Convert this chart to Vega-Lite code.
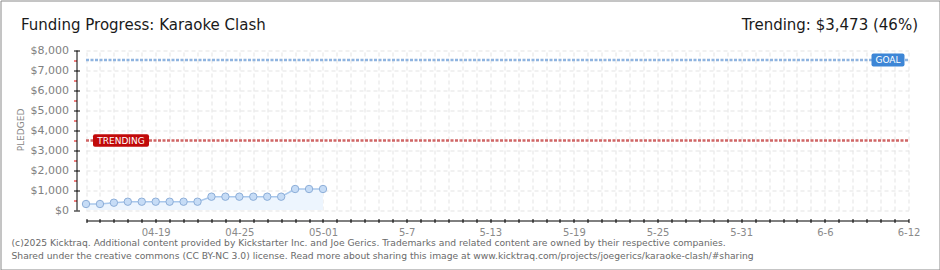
{
  "$schema": "https://vega.github.io/schema/vega-lite/v6.json",
  "width": 939,
  "height": 269,
  "padding": 0.5,
  "autosize": {"type": "none"},
  "background": "white",
  "config": {"view": {"stroke": "#8a8a8a", "strokeWidth": 1, "fill": "white"}},
  "datasets": {
    "pledges": [
      {"date": "2025-04-14", "pledged": 300},
      {"date": "2025-04-15", "pledged": 300},
      {"date": "2025-04-16", "pledged": 365},
      {"date": "2025-04-17", "pledged": 415},
      {"date": "2025-04-18", "pledged": 415},
      {"date": "2025-04-19", "pledged": 415},
      {"date": "2025-04-20", "pledged": 415},
      {"date": "2025-04-21", "pledged": 415},
      {"date": "2025-04-22", "pledged": 415},
      {"date": "2025-04-23", "pledged": 665},
      {"date": "2025-04-24", "pledged": 665},
      {"date": "2025-04-25", "pledged": 665},
      {"date": "2025-04-26", "pledged": 665},
      {"date": "2025-04-27", "pledged": 665},
      {"date": "2025-04-28", "pledged": 665},
      {"date": "2025-04-29", "pledged": 1050},
      {"date": "2025-04-30", "pledged": 1050},
      {"date": "2025-05-01", "pledged": 1050}
    ],
    "refs": [
      {"label": "GOAL", "amount": 7500},
      {"label": "TRENDING", "amount": 3473}
    ]
  },
  "layer": [
    {
      "data": {"name": "pledges"},
      "mark": {"type": "area", "color": "#edf5fe", "opacity": 1},
      "encoding": {
        "x": {
          "field": "date", "type": "temporal",
          "scale": {"type": "utc", "domain": [{"year": 2025, "month": 4, "date": 14, "utc": true}, {"year": 2025, "month": 6, "date": 12, "utc": true}], "range": [85.5, 908], "nice": false},
          "axis": {
            "orient": "bottom", "offset": -49, "grid": false,
            "domain": true, "domainColor": "#000000", "domainWidth": 1,
            "ticks": true, "tickColor": "#000000", "tickSize": 2, "tickWidth": 1,
            "tickCount": {"interval": "day", "step": 1},
            "labelExpr": "(round((datum.value - utc(2025,3,19)) / 864e5) % 6 === 0) ? (datum.value <= utc(2025,4,1) ? utcFormat(datum.value, '%m-%d') : utcFormat(datum.value, '%-m-%-d')) : ''",
            "labelOverlap": false, "labelFlush": false, "labelBound": false,
            "labelFont": "DejaVu Sans", "labelFontSize": 10, "labelColor": "#8a8a8a", "labelPadding": 5,
            "title": ["(c)2025 Kicktraq. Additional content provided by Kickstarter Inc. and Joe Gerics. Trademarks and related content are owned by their respective companies.", "Shared under the creative commons (CC BY-NC 3.0) license. Read more about sharing this image at www.kicktraq.com/projects/joegerics/karaoke-clash/#sharing"],
            "titleX": 10.5, "titleY": 25, "titleAlign": "left", "titleAnchor": "start", "titleBaseline": "alphabetic", "titleAngle": 0,
            "titleFont": "DejaVu Sans", "titleFontSize": 9.2, "titleFontWeight": "normal", "titleColor": "#6a6a6a", "titleLineHeight": 12.5
          }
        },
        "y": {
          "field": "pledged", "type": "quantitative",
          "scale": {"domain": [0, 8000], "range": [209.5, 49.5], "nice": false, "zero": true},
          "axis": {
            "orient": "left", "offset": -76,
            "values": [0, 500, 1000, 1500, 2000, 2500, 3000, 3500, 4000, 4500, 5000, 5500, 6000, 6500, 7000, 7500, 8000],
            "domain": true, "domainColor": "#000000", "domainWidth": 1,
            "ticks": true, "tickSize": 3, "tickWidth": 1,
            "tickColor": {"condition": {"test": "datum.value % 1000 === 0", "value": "#000000"}, "value": "#e00000"},
            "grid": true, "gridDash": [4, 3], "gridWidth": 1,
            "gridColor": {"condition": {"test": "datum.value % 1000 === 0", "value": "#e3e3e3"}, "value": "transparent"},
            "labelExpr": "datum.value % 1000 === 0 ? '$' + format(datum.value, ',') : ''",
            "labelOverlap": false, "labelFlush": false, "labelBound": false,
            "labelFont": "DejaVu Sans", "labelFontSize": 11, "labelColor": "#808080", "labelPadding": 5,
            "title": "PLEDGED", "titleX": -56, "titleY": 129, "titleAngle": -90, "titleAlign": "center", "titleBaseline": "middle",
            "titleFont": "DejaVu Sans", "titleFontSize": 9, "titleFontWeight": "normal", "titleColor": "#888888"
          }
        }
      }
    },
    {
      "data": {"name": "pledges"},
      "mark": {"type": "line", "color": "#a9c8ec", "strokeWidth": 1.5},
      "encoding": {
        "x": {
          "field": "date", "type": "temporal",
          "axis": {
            "orient": "top", "offset": 0, "domain": false, "ticks": false, "labels": false,
            "grid": true, "gridColor": "#e3e3e3", "gridDash": [4, 3], "gridWidth": 1,
            "tickCount": {"interval": "day", "step": 1},
            "title": "Funding Progress: Karaoke Clash",
            "titleX": 20, "titleY": 29, "titleAlign": "left", "titleBaseline": "alphabetic", "titleAngle": 0,
            "titleFont": "DejaVu Sans", "titleFontSize": 15, "titleFontWeight": "normal", "titleColor": "#1a1a1a"
          }
        },
        "y": {
          "field": "pledged", "type": "quantitative",
          "axis": {
            "orient": "right", "offset": 0, "domain": false, "ticks": false, "labels": false, "grid": false,
            "title": "Trending: $3,473 (46%)",
            "titleX": -22, "titleY": 29, "titleAlign": "right", "titleBaseline": "alphabetic", "titleAngle": 0,
            "titleFont": "DejaVu Sans", "titleFontSize": 15, "titleFontWeight": "normal", "titleColor": "#1a1a1a"
          }
        }
      }
    },
    {
      "data": {"name": "pledges"},
      "mark": {"type": "circle", "size": 55, "fill": "#c6dcf6", "stroke": "#8daed8", "strokeWidth": 1, "opacity": 1},
      "encoding": {
        "x": {
          "field": "date", "type": "temporal",
          "axis": {
            "orient": "bottom", "offset": -51, "domain": false, "labels": false, "grid": false,
            "ticks": true, "tickColor": "#000000", "tickSize": 2, "tickWidth": 1,
            "tickCount": {"interval": "day", "step": 1}, "title": null
          }
        },
        "y": {
          "field": "pledged", "type": "quantitative",
          "axis": {
            "orient": "left", "offset": -79, "domain": false, "labels": false, "grid": false,
            "values": [0, 1000, 2000, 3000, 4000, 5000, 6000, 7000, 8000],
            "ticks": true, "tickColor": "#000000", "tickSize": 3, "tickWidth": 1, "title": null
          }
        }
      }
    },
    {
      "data": {"name": "refs"},
      "mark": {"type": "rule", "strokeWidth": 2.5, "strokeDash": [3, 1.5]},
      "encoding": {
        "x": {"datum": {"year": 2025, "month": 4, "date": 14, "utc": true}, "type": "temporal", "axis": null},
        "x2": {"datum": {"year": 2025, "month": 6, "date": 12, "utc": true}},
        "y": {"field": "amount", "type": "quantitative", "axis": null},
        "color": {"field": "label", "type": "nominal", "scale": {"domain": ["GOAL", "TRENDING"], "range": ["#8fb4e0", "#d06666"]}, "legend": null}
      }
    },
    {
      "data": {"name": "refs"},
      "transform": [{"filter": "datum.label === 'GOAL'"}],
      "mark": {"type": "point", "filled": true, "size": 1089, "fill": "#3d86d6", "opacity": 1, "strokeWidth": 0, "xOffset": -20.5,
        "shape": "M-0.88,-0.394L0.88,-0.394Q1,-0.394 1,-0.274L1,0.274Q1,0.394 0.88,0.394L-0.88,0.394Q-1,0.394 -1,0.274L-1,-0.274Q-1,-0.394 -0.88,-0.394Z"},
      "encoding": {
        "x": {"datum": {"year": 2025, "month": 6, "date": 12, "utc": true}, "type": "temporal", "axis": null},
        "y": {"field": "amount", "type": "quantitative", "axis": null}
      }
    },
    {
      "data": {"name": "refs"},
      "transform": [{"filter": "datum.label === 'TRENDING'"}],
      "mark": {"type": "point", "filled": true, "size": 3136, "fill": "#c10a0a", "opacity": 1, "strokeWidth": 0, "xOffset": 35,
        "shape": "M-0.929,-0.223L0.929,-0.223Q1,-0.223 1,-0.152L1,0.152Q1,0.223 0.929,0.223L-0.929,0.223Q-1,0.223 -1,0.152L-1,-0.152Q-1,-0.223 -0.929,-0.223Z"},
      "encoding": {
        "x": {"datum": {"year": 2025, "month": 4, "date": 14, "utc": true}, "type": "temporal", "axis": null},
        "y": {"field": "amount", "type": "quantitative", "axis": null}
      }
    },
    {
      "data": {"name": "refs"},
      "transform": [{"filter": "datum.label === 'GOAL'"}],
      "mark": {"type": "text", "color": "#ffffff", "font": "DejaVu Sans", "fontSize": 9, "align": "center", "baseline": "middle", "xOffset": -20.5},
      "encoding": {
        "x": {"datum": {"year": 2025, "month": 6, "date": 12, "utc": true}, "type": "temporal", "axis": null},
        "y": {"field": "amount", "type": "quantitative", "axis": null},
        "text": {"field": "label"}
      }
    },
    {
      "data": {"name": "refs"},
      "transform": [{"filter": "datum.label === 'TRENDING'"}],
      "mark": {"type": "text", "color": "#ffffff", "font": "DejaVu Sans", "fontSize": 9, "align": "center", "baseline": "middle", "xOffset": 35},
      "encoding": {
        "x": {"datum": {"year": 2025, "month": 4, "date": 14, "utc": true}, "type": "temporal", "axis": null},
        "y": {"field": "amount", "type": "quantitative", "axis": null},
        "text": {"field": "label"}
      }
    }
  ],
  "resolve": {"axis": {"x": "independent", "y": "independent"}}
}
